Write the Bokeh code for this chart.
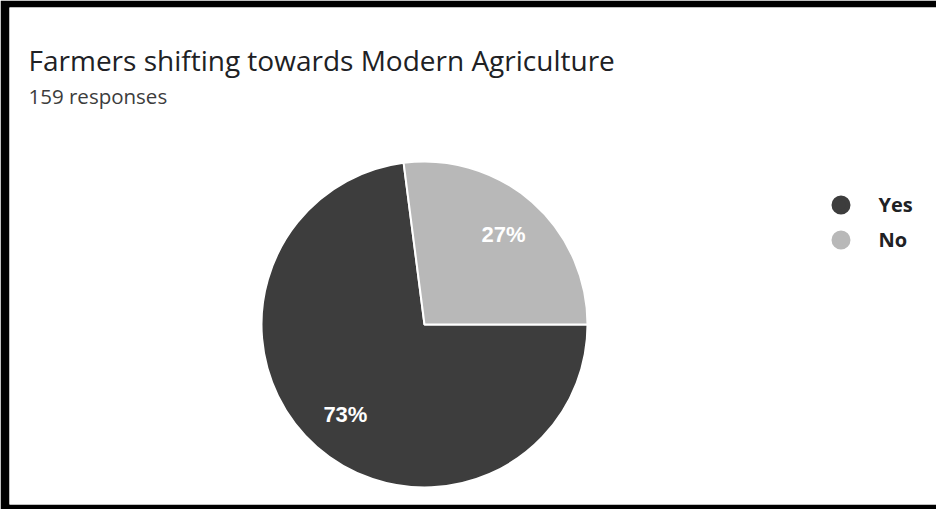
import math
from bokeh.plotting import figure
from bokeh.models import Range1d, Label, Legend, LegendItem, ColumnDataSource
from bokeh.core.properties import value
from bokeh.embed import file_html
from bokeh.resources import INLINE

# ---- data ----
title_text = "Farmers shifting towards Modern Agriculture"
categories = ["Yes", "No"]
counts = [116, 43]
colors = ["#3d3d3d", "#b8b8b8"]

# ---- layout ----
W, H = 936, 509
BL, BT, BB, BR = 9, 7, 5, 0
PAGE_H = 525
fx0, fx1 = 8 + BL, 8 + W - BR
fy_top, fy_bot = 8 + BT, 8 + H - BB

p = figure(width=W, height=H, output_backend="svg", toolbar_location=None,
           x_axis_type=None, y_axis_type=None,
           x_range=Range1d(fx0, fx1), y_range=Range1d(PAGE_H - fy_bot, PAGE_H - fy_top),
           min_border_left=BL, min_border_right=BR, min_border_top=BT, min_border_bottom=BB)
p.border_fill_color = "black"
p.background_fill_color = "white"
p.outline_line_color = None
p.grid.visible = False

cx, cy, r = 432, PAGE_H - 332, 163

total = sum(counts)
fracs = [c / total for c in counts]
starts, ends, mids = [], [], []
cum = 0.0
for f in fracs:
    a0 = -cum * 2 * math.pi
    a1 = -(cum + f) * 2 * math.pi
    starts.append(a1)
    ends.append(a0)
    mids.append((a0 + a1) / 2)
    cum += f

lr = 0.735 * r
src = ColumnDataSource(dict(
    cat=categories, start=starts, end=ends, color=colors,
    lx=[cx + lr * math.cos(m) for m in mids],
    ly=[cy + lr * math.sin(m) for m in mids],
    pct=[f"{round(f * 100)}%" for f in fracs],
))

p.wedge(x=cx, y=cy, radius=r, start_angle="start", end_angle="end",
        direction="anticlock", fill_color="color", line_color="white",
        line_width=2, source=src)

p.text(x="lx", y="ly", text="pct", source=src, text_color="white",
       text_font=value("Liberation Sans"), text_font_style="bold",
       text_font_size="22px", text_align="center", text_baseline="middle")

# title & subtitle
p.add_layout(Label(x=36, y=PAGE_H - 67, text=title_text, text_font="Open Sans",
                   text_font_size="28px", text_color="#202124", text_baseline="alphabetic"))
p.add_layout(Label(x=36, y=PAGE_H - 103, text=f"{total} responses", text_font="Open Sans",
                   text_font_size="20.5px", text_color="#3c3c3c", text_baseline="alphabetic"))

# legend
items = []
for cat, col in zip(categories, colors):
    rr = p.scatter(x=[float("nan")], y=[float("nan")], marker="circle", size=10,
                   fill_color=col, line_color=col, line_width=5)
    items.append(LegendItem(label=cat, renderers=[rr]))

gh = 35
leg_left_page = 848 - gh / 2
leg_top_page = 212 - gh / 2
leg_h = gh * len(categories)
legend = Legend(items=items, location=(leg_left_page - fx0, fy_bot - (leg_top_page + leg_h)),
                glyph_width=gh, glyph_height=gh, label_standoff=21, padding=0, margin=0,
                spacing=0, border_line_color=None, background_fill_alpha=0,
                label_text_font="Open Sans", label_text_font_style="bold",
                label_text_font_size="20px", label_text_color="#202124")
p.add_layout(legend)

open("out.html", "w").write(file_html(p, INLINE))
